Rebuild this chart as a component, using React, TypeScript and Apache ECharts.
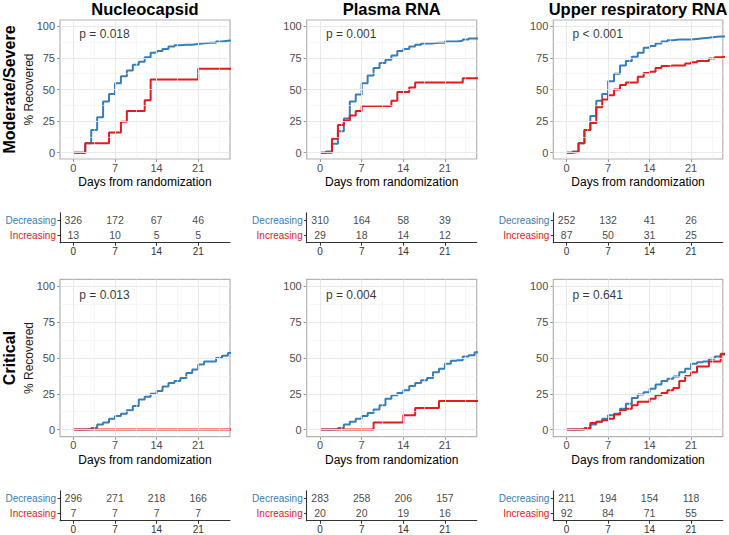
import React, { useEffect, useRef } from "react";
import * as echarts from "echarts";

// ---------- DATA ----------
const days = [0, 1, 2, 3, 4, 5, 6, 7, 8, 9, 10, 11, 12, 13, 14, 15, 16, 17, 18, 19, 20, 21, 22, 23, 24, 25, 26];

const titles = ["Nucleocapsid", "Plasma RNA", "Upper respiratory RNA"];
const rowLabels = ["Moderate/Severe", "Critical"];
const pValues = ["p = 0.018", "p = 0.001", "p < 0.001", "p = 0.013", "p = 0.004", "p = 0.641"];

// % recovered, value held from each day to the next (Decreasing / Increasing)
const ncModDec = [0, 0, 7.5, 18, 28, 40.5, 46.5, 55, 60.5, 65, 69.5, 72, 75.5, 79, 80.5, 82, 84, 85, 85.5, 85.5, 86, 86.5, 87, 87, 88, 88.5, 89];
const ncModInc = [0, 0, 7.5, 7.5, 7.5, 7.5, 16, 16, 24.5, 33, 33, 33, 41.5, 58, 58, 58, 58, 58, 58, 58, 58, 66.5, 66.5, 66.5, 66.5, 66.5, 66.5];
const plModDec = [0, 1, 7, 17, 27, 40.5, 46, 55, 61, 67, 71, 73.5, 77, 80.5, 82, 84, 85.5, 86.5, 86.5, 87, 87, 88, 88, 88.5, 89.5, 90.3, 90.5];
const plModInc = [0, 0, 11, 22, 25.5, 29.5, 33, 37, 37, 37, 37, 37, 41, 48, 48, 51.5, 55.5, 55.5, 55.5, 55.5, 55.5, 55.5, 55.5, 55.5, 59, 59, 59];
const urModDec = [0, 1, 7.5, 18, 29, 41, 46.5, 56.5, 62.5, 69, 72.5, 76, 79, 83, 84.5, 86.5, 88, 89, 89.5, 89.5, 89.5, 90, 90.5, 91, 91.5, 92, 92];
const urModInc = [0, 0.5, 7.5, 18, 23.5, 36, 42, 45.5, 50, 53.5, 55.5, 55.5, 60, 63, 64, 67, 68.5, 69, 69, 69, 70.5, 71.5, 72.5, 72.5, 74.5, 75.5, 76];
const ncCrDec = [0, 0, 0.3, 1, 3.5, 5, 7.5, 9.5, 11, 13.5, 16.5, 21, 23, 25, 27, 30, 32.5, 34, 36, 39.5, 42, 45.5, 47.5, 47.5, 50, 51.5, 53.5];
const ncCrInc = [0, 0, 0, 0, 0, 0, 0, 0, 0, 0, 0, 0, 0, 0, 0, 0, 0, 0, 0, 0, 0, 0, 0, 0, 0, 0, 0];
const plCrDec = [0, 0, 0.3, 1, 3.5, 5.5, 7.5, 9.5, 11.5, 14, 17, 21.5, 24, 25.5, 27.5, 30.5, 32.5, 34.5, 36, 40, 42.5, 46, 48, 48.5, 51, 52, 54];
const plCrInc = [0, 0, 0, 0, 0, 0, 0, 0, 0, 5, 5, 5, 5, 5, 10, 10, 15, 15, 15, 15, 20, 20, 20, 20, 20, 20, 20];
const urCrDec = [0, 0, 0.3, 1, 3.5, 5.5, 7.5, 10, 11, 14.5, 18, 22, 24.5, 26, 28.5, 31.5, 34, 35.5, 37, 40, 42.5, 46, 47, 47.5, 49.5, 51, 52.5];
const urCrInc = [0, 0, 0, 0.5, 4.5, 5.5, 6.5, 7.5, 10.5, 13.5, 14.5, 17, 19.5, 19.5, 21.5, 24, 25.5, 27.5, 29, 34, 37.5, 40, 44, 44, 47.5, 47.5, 53];

// number at risk
const riskDays = [0, 7, 14, 21];
const ncModRiskDec = [326, 172, 67, 46];
const ncModRiskInc = [13, 10, 5, 5];
const plModRiskDec = [310, 164, 58, 39];
const plModRiskInc = [29, 18, 14, 12];
const urModRiskDec = [252, 132, 41, 26];
const urModRiskInc = [87, 50, 31, 25];
const ncCrRiskDec = [296, 271, 218, 166];
const ncCrRiskInc = [7, 7, 7, 7];
const plCrRiskDec = [283, 258, 206, 157];
const plCrRiskInc = [20, 20, 19, 16];
const urCrRiskDec = [211, 194, 154, 118];
const urCrRiskInc = [92, 84, 71, 55];

const xTicks = [0, 7, 14, 21];
const xMinor = [3.5, 10.5, 17.5, 24.5];
const yTicks = [0, 25, 50, 75, 100];
const yMinor = [12.5, 37.5, 62.5, 87.5];
const strata = ["Increasing", "Decreasing"];

const curves = [
  [ncModDec, ncModInc], [plModDec, plModInc], [urModDec, urModInc],
  [ncCrDec, ncCrInc], [plCrDec, plCrInc], [urCrDec, urCrInc],
];
const risks = [
  [ncModRiskDec, ncModRiskInc], [plModRiskDec, plModRiskInc], [urModRiskDec, urModRiskInc],
  [ncCrRiskDec, ncCrRiskInc], [plCrRiskDec, plCrRiskInc], [urCrRiskDec, urCrRiskInc],
];

// ---------- STYLE / LAYOUT ----------
const BLUE = "#377EB8";
const RED = "#E41A1C";
const FONT = "Liberation Sans, Arial, Helvetica, sans-serif";
const X_MIN = -2.25;
const X_MAX = 26.35;
const COL_LEFT = [60, 306.7, 553.3];
const COL_W = [170, 170, 169.5];
const ROW_TOP = [20, 279.3];
const ROW_H = [139, 157.4];
const TABLE_TOP = [212.7, 490.7];
const TABLE_H = 30;

function buildOption() {
  const grid: any[] = [];
  const xAxis: any[] = [];
  const yAxis: any[] = [];
  const series: any[] = [];
  const graphic: any[] = [];

  for (let i = 0; i < 6; i++) {
    const r = Math.floor(i / 3);
    const c = i % 3;
    grid.push({
      left: COL_LEFT[c], top: ROW_TOP[r], width: COL_W[c], height: ROW_H[r],
      show: true, backgroundColor: "#fff", borderColor: "#B3B3B3", borderWidth: 1.2,
    });
    xAxis.push({
      gridIndex: i, type: "value", min: X_MIN, max: X_MAX,
      axisLine: { show: false, onZero: false },
      axisTick: { show: true, customValues: xTicks, length: 3, lineStyle: { color: "#999" } },
      axisLabel: { customValues: xTicks, color: "#4D4D4D", fontSize: 11, margin: 3, fontFamily: FONT },
      splitLine: { show: false },
    });
    yAxis.push({
      gridIndex: i, type: "value", min: -5, max: 105,
      axisLine: { show: false, onZero: false },
      axisTick: { show: true, customValues: yTicks, length: 3, lineStyle: { color: "#999" } },
      axisLabel: { customValues: yTicks, color: "#4D4D4D", fontSize: 11, margin: 5, fontFamily: FONT },
      splitLine: { show: false },
    });
  }
  for (let i = 0; i < 6; i++) {
    const r = Math.floor(i / 3);
    const c = i % 3;
    grid.push({ left: COL_LEFT[c], top: TABLE_TOP[r], width: COL_W[c], height: TABLE_H });
    xAxis.push({
      gridIndex: 6 + i, type: "value", min: X_MIN, max: X_MAX,
      axisLine: { show: true, onZero: false, lineStyle: { color: "#333", width: 1.1 } },
      axisTick: { show: true, customValues: xTicks, length: 3, lineStyle: { color: "#333" } },
      axisLabel: { customValues: xTicks, color: "#333", fontSize: 10, margin: 4, fontFamily: FONT },
      splitLine: { show: false },
    });
    yAxis.push({
      gridIndex: 6 + i, type: "category", data: strata,
      axisLine: { show: true, onZero: false, lineStyle: { color: "#333", width: 1.1 } },
      axisTick: { show: true, alignWithLabel: true, length: 2.5, lineStyle: { color: "#333" } },
      axisLabel: {
        interval: 0, margin: 4, fontFamily: FONT,
        formatter: (v: string) => (v === "Decreasing" ? `{d|${v}}` : `{n|${v}}`),
        rich: {
          d: { color: BLUE, fontSize: 10, fontFamily: FONT },
          n: { color: RED, fontSize: 10, fontFamily: FONT },
        },
      },
      splitLine: { show: false },
    });
  }

  const gridLines: any[] = [];
  yTicks.forEach((v) => gridLines.push({ yAxis: v, lineStyle: { color: "#E6E6E6", width: 0.9, type: "solid" } }));
  yMinor.forEach((v) => gridLines.push({ yAxis: v, lineStyle: { color: "#F2F2F2", width: 0.6, type: "solid" } }));
  xTicks.forEach((v) => gridLines.push({ xAxis: v, lineStyle: { color: "#E6E6E6", width: 0.9, type: "solid" } }));
  xMinor.forEach((v) => gridLines.push({ xAxis: v, lineStyle: { color: "#F2F2F2", width: 0.6, type: "solid" } }));

  for (let i = 0; i < 6; i++) {
    const [dec, inc] = curves[i];
    series.push({
      type: "line", xAxisIndex: i, yAxisIndex: i, data: [[0, 0]], symbol: "none",
      lineStyle: { opacity: 0 }, z: 1, silent: true,
      markLine: { silent: true, symbol: ["none", "none"], label: { show: false }, animation: false, data: gridLines },
    });
    const mk = (vals: number[]) => {
      const d = days.map((t, k) => [t, vals[k]]);
      d.push([days[days.length - 1] + 1, vals[vals.length - 1]]);
      return d;
    };
    series.push({
      type: "line", xAxisIndex: i, yAxisIndex: i, step: "end", data: mk(dec), symbol: "none",
      lineStyle: { color: BLUE, width: 2 }, z: 3, clip: true,
    });
    series.push({
      type: "line", xAxisIndex: i, yAxisIndex: i, step: "end", data: mk(inc), symbol: "none",
      lineStyle: { color: RED, width: 2 }, z: 4, clip: true,
    });
    series.push({
      type: "scatter", xAxisIndex: i, yAxisIndex: i, data: [[1, 94]], symbolSize: 1,
      itemStyle: { color: "rgba(0,0,0,0)" }, z: 5,
      label: {
        show: true, position: "inside", align: "left", verticalAlign: "middle",
        formatter: () => pValues[i], color: "#000", fontSize: 12, fontFamily: FONT,
      },
    });
    const [rd, ri] = risks[i];
    const tdata: any[] = [];
    riskDays.forEach((t, k) => tdata.push([t, 1, rd[k]]));
    riskDays.forEach((t, k) => tdata.push([t, 0, ri[k]]));
    series.push({
      type: "scatter", xAxisIndex: 6 + i, yAxisIndex: 6 + i, data: tdata, symbolSize: 1,
      itemStyle: { color: "rgba(0,0,0,0)" },
      label: {
        show: true, position: "inside", formatter: (p: any) => String(p.value[2]),
        color: "#111", fontSize: 10.5, fontFamily: FONT,
      },
    });
  }

  const txt = (text: string, x: number, y: number, size: number, bold: boolean, rot = 0, fill = "#000") => ({
    type: "text", x, y, rotation: rot, silent: true,
    style: {
      text, fill, font: `${bold ? "bold " : ""}${size}px ${FONT}`,
      align: "center", verticalAlign: "middle", textAlign: "center", textVerticalAlign: "middle",
    },
  });
  for (let c = 0; c < 3; c++) {
    graphic.push(txt(titles[c], COL_LEFT[c] + COL_W[c] / 2, 9, 16.5, true));
    for (let r = 0; r < 2; r++) {
      graphic.push(txt("Days from randomization", COL_LEFT[c] + COL_W[c] / 2, ROW_TOP[r] + ROW_H[r] + 23, 12, false));
    }
  }
  for (let r = 0; r < 2; r++) {
    const cy = ROW_TOP[r] + ROW_H[r] / 2;
    graphic.push(txt(rowLabels[r], 9, cy, 16, true, Math.PI / 2));
    graphic.push(txt("% Recovered", 28.5, cy, 12, false, Math.PI / 2, "#1a1a1a"));
  }

  return {
    animation: false,
    backgroundColor: "#fff",
    textStyle: { fontFamily: FONT },
    grid, xAxis, yAxis, series, graphic,
  };
}

export default function App() {
  const ref = useRef<HTMLDivElement>(null);
  useEffect(() => {
    if (!ref.current) return;
    const chart = echarts.init(ref.current, undefined, { renderer: "svg" });
    chart.setOption(buildOption() as any);
    return () => chart.dispose();
  }, []);
  return (
    <div
      ref={ref}
      style={{ position: "absolute", left: 0, top: 0, width: 729, height: 535, background: "#fff" }}
    />
  );
}
